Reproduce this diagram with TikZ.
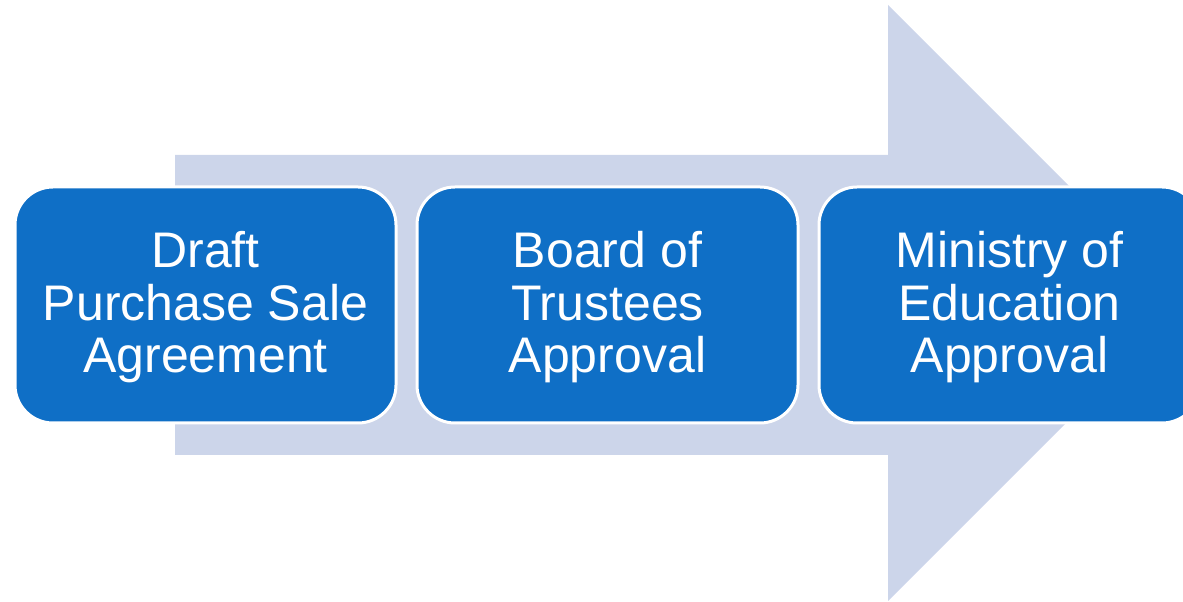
\documentclass[tikz,border=0pt]{standalone}
\usepackage{fontspec}
\setmainfont{Liberation Sans}
\definecolor{boxblue}{HTML}{0F6FC6}
\definecolor{arrowfill}{HTML}{CCD5EA}
\begin{document}
\begin{tikzpicture}[x=1pt,y=1pt,
  stepbox/.style={draw=white, line width=3pt, fill=boxblue, rounded corners=38pt,
    minimum width=381pt, minimum height=236pt, inner sep=0pt},
  steptext/.style={text=white, inner sep=0pt, align=center,
    font=\fontsize{50}{52.5}\selectfont}]
\useasboundingbox (0,0) rectangle (1183,602);
\clip (0,0) rectangle (1183,602);
% big arrow (y = 602 - pixel y)
\fill[arrowfill] (175,447) -- (888,447) -- (888,597) -- (1186,299) -- (888,1) -- (888,147) -- (175,147) -- cycle;
\node[stepbox] (a) at (205.5,297) {};
\node[stepbox] (b) at (607.5,297) {};
\node[stepbox] (c) at (1009.5,297) {};
\node[steptext] (at) at ([yshift=-2.5pt]a.center) {Draft\\Purchase Sale\\Agreement};
\node[steptext] (bt) at ([yshift=-2.5pt]b.center) {Board of\\Trustees\\Approval};
\node[steptext] (ct) at ([yshift=-2.5pt]c.center) {Ministry of\\Education\\Approval};
\end{tikzpicture}
\end{document}
